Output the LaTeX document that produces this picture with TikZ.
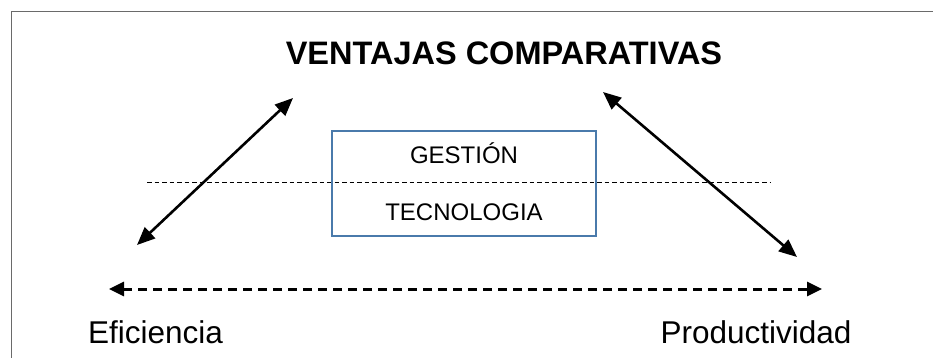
\documentclass[tikz,border=0pt]{standalone}
\usepackage{fontspec}
\setmainfont{Liberation Sans}
\usetikzlibrary{arrows.meta}
\definecolor{framegray}{HTML}{6A6A6A}
\definecolor{boxblue}{HTML}{4A7AAB}
\tikzset{
  title/.style={font=\fontsize{32.5}{38}\selectfont\bfseries, anchor=base, inner sep=0pt},
  label/.style={font=\fontsize{31.5}{36}\selectfont, anchor=base, inner sep=0pt},
  boxtext/.style={font=\fontsize{24}{28}\selectfont, anchor=base, inner sep=0pt},
  keybox/.style={draw=boxblue, line width=2.4pt, minimum width=264pt, minimum height=105pt, inner sep=0pt},
  link/.style={line width=2.6pt, {Triangle[length=18pt,width=15pt]}-{Triangle[length=18pt,width=15pt]}},
  flow/.style={line width=3pt, dash pattern=on 9pt off 6pt, {Triangle[length=15pt,width=14pt]}-{Triangle[length=15pt,width=14pt]}},
  divider/.style={line width=1pt, dash pattern=on 4.5pt off 3pt}
}
\begin{document}
\begin{tikzpicture}[x=1pt, y=-1pt]
  \useasboundingbox (0,0) rectangle (933,358);
  % open frame: top and left edges
  \draw[framegray, line width=1.6pt] (11.5,358) -- (11.5,11.5) -- (933,11.5);

  \node[title] (title) at (504,65) {VENTAJAS COMPARATIVAS};

  % dashed divider across the central box
  \coordinate (divL) at (147,182.5);
  \coordinate (divR) at (770,182.5);
  \draw[divider] (divL) -- (divR);

  \node[keybox] (box) at (464,183.5) {};
  \node[boxtext] (gestion) at (464,164) {GESTIÓN};
  \node[boxtext] (tecno) at (464,220) {TECNOLOGIA};

  % diagonal links
  \coordinate (l1) at (137,245);
  \coordinate (l2) at (293,98);
  \coordinate (r1) at (603,92);
  \coordinate (r2) at (797,257);
  \draw[link] (l1) -- (l2);
  \draw[link] (r1) -- (r2);

  % horizontal dashed link
  \coordinate (h1) at (109,289);
  \coordinate (h2) at (822,289);
  \draw[flow] (h1) -- (h2);

  \node[label] (efi) at (155.5,343) {Eficiencia};
  \node[label] (prod) at (756,343) {Productividad};
\end{tikzpicture}
\end{document}
